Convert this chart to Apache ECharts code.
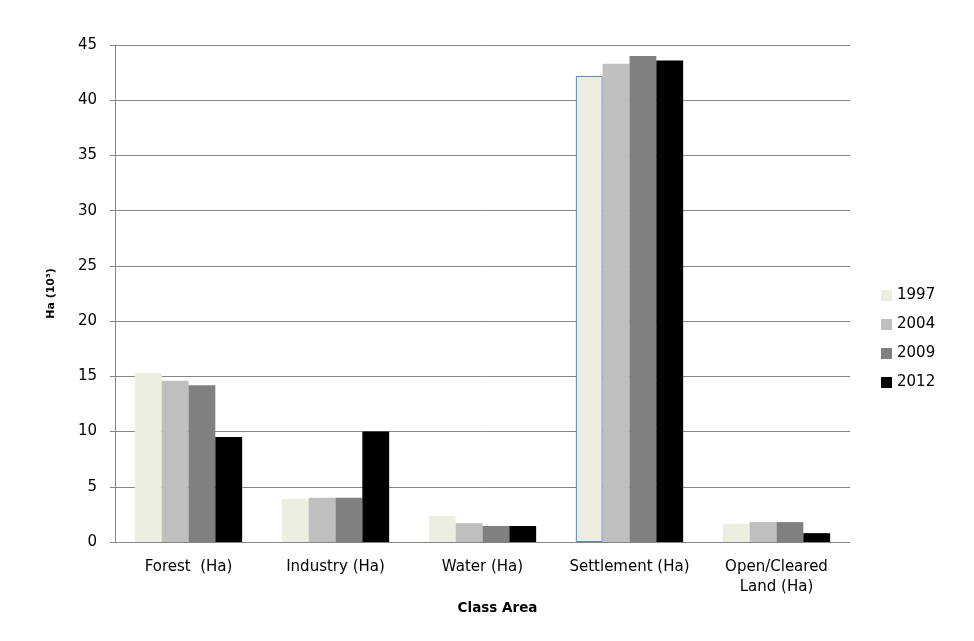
<!DOCTYPE html>
<html>
<head>
    <meta charset="UTF-8" />
    <title>Class Area</title>
    <script src="https://cdn.jsdelivr.net/npm/echarts@6/dist/echarts.min.js"></script>
    <style>
        html, body { margin: 0; padding: 0; background: #fff; }
        #main { width: 974px; height: 641px; }
    </style>
</head>
<body>
    <div id="main"></div>
    <script>
    var categories = ['Forest  (Ha)', 'Industry (Ha)', 'Water (Ha)', 'Settlement (Ha)', 'Open/Cleared\nLand (Ha)'];
    var years = ['1997', '2004', '2009', '2012'];
    var v1997 = [15.3, 3.9, 2.35, 42.2, 1.65];
    var v2004 = [14.6, 4.0, 1.7, 43.3, 1.8];
    var v2009 = [14.2, 4.0, 1.45, 44.0, 1.8];
    var v2012 = [9.5, 10.0, 1.45, 43.6, 0.8];
    var yTicks = [0, 5, 10, 15, 20, 25, 30, 35, 40, 45];

    var colors = ['#eceee0', '#bfbfbf', '#808080', '#000000'];
    var values = [v1997, v2004, v2009, v2012];
    var font = 'DejaVu Sans';

    var mySeries = [];
    for (var i = 0; i < years.length; i++) {
        var d = values[i].slice();
        if (i == 0) {
            // the settlement 1997 bar has a thin blue outline in the original
            d[3] = { value: d[3], itemStyle: { borderColor: '#5b84b8', borderWidth: 1 } };
        }
        mySeries.push({
            name: years[i],
            type: 'bar',
            data: d,
            barGap: '0%',
            barCategoryGap: '27%',
            itemStyle: { color: colors[i] }
        });
    }

    var myChart = echarts.init(document.getElementById('main'));
    myChart.setOption({
        animation: false,
        textStyle: { fontFamily: font },
        grid: { left: 115, right: 124, top: 45, bottom: 99 },
        legend: {
            data: years,
            orient: 'vertical',
            left: 876,
            top: 283,
            itemWidth: 11,
            itemHeight: 11,
            itemGap: 14,
            icon: 'rect',
            textStyle: { fontFamily: font, fontSize: 15, color: '#000' }
        },
        xAxis: {
            type: 'category',
            data: categories,
            name: 'Class Area',
            nameLocation: 'middle',
            nameGap: 54,
            nameTextStyle: { fontFamily: font, fontWeight: 'bold', fontSize: 13.5, color: '#000', padding: [0, 0, 0, 30] },
            axisLine: { lineStyle: { color: '#868686' } },
            axisTick: { show: false },
            axisLabel: { color: '#000', fontSize: 15, margin: 15, lineHeight: 20, interval: 0 }
        },
        yAxis: {
            type: 'value',
            min: yTicks[0],
            max: yTicks[yTicks.length - 1],
            interval: 5,
            name: 'Ha (10³)',
            nameLocation: 'middle',
            nameGap: 58,
            nameTextStyle: { fontFamily: font, fontWeight: 'bold', fontSize: 11, color: '#000' },
            axisLine: { show: true, lineStyle: { color: '#868686' } },
            axisTick: { show: true, length: 5, lineStyle: { color: '#868686' } },
            axisLabel: { color: '#000', fontSize: 15, margin: 18 },
            splitLine: { lineStyle: { color: '#868686' } }
        },
        series: mySeries
    });
    </script>
</body>
</html>
